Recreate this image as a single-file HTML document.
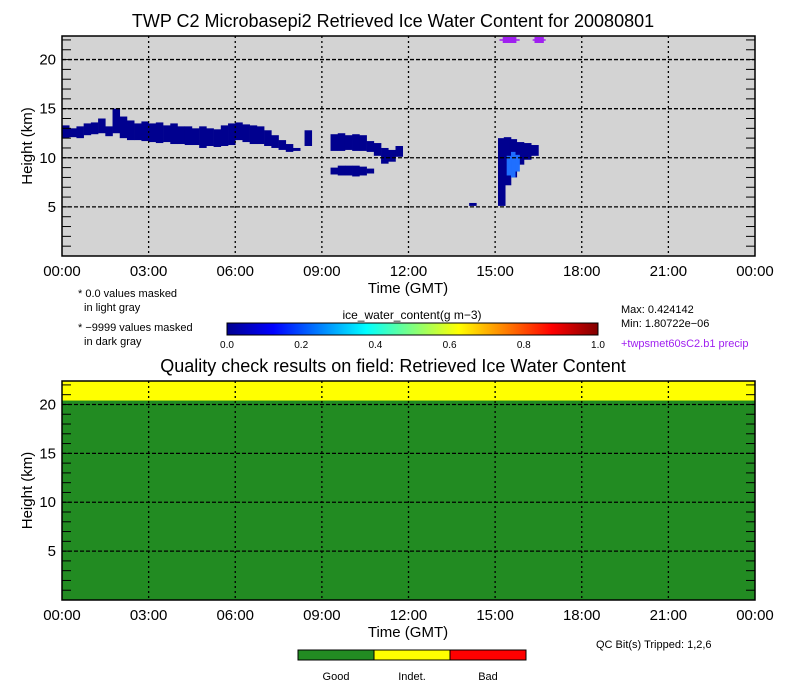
<!DOCTYPE html>
<html><head><meta charset="utf-8"><style>
body{margin:0;background:#fff;font-family:"Liberation Sans",sans-serif;}
svg{display:block}
</style></head><body>
<svg width="786" height="688" viewBox="0 0 786 688" font-family="Liberation Sans, sans-serif">
<g id="top"></g><g id="bot"></g>
</svg>
<script>
// ---- data ----
const timeTicks=["00:00","03:00","06:00","09:00","12:00","15:00","18:00","21:00","00:00"];
const tickHours=[0,3,6,9,12,15,18,21,24];
const yTicks=[5,10,15,20];
// upper cloud columns (hour, base km, top km)
const cloudHours=[0,0.25,0.5,0.75,1.0,1.25,1.5,1.75,2.0,2.25,2.5,2.75,3.0,3.25,3.5,3.75,4.0,4.25,4.5,4.75,5.0,5.25,5.5,5.75,6.0,6.25,6.5,6.75,7.0,7.25,7.5,7.75,8.0,8.4,9.3,9.55,9.8,10.05,10.3,10.55,10.8,11.05,11.3,11.55,14.1,15.1,15.3,15.5,15.75,16.0,16.25];
const cloudBase=[12.0,12.1,12.0,12.3,12.4,12.5,12.2,12.5,12.0,11.8,11.8,11.7,11.6,11.5,11.6,11.4,11.4,11.3,11.3,11.0,11.2,11.1,11.2,11.3,11.8,11.6,11.4,11.4,11.2,11.0,10.8,10.6,10.7,11.2,10.7,10.7,10.8,10.7,10.7,10.6,10.2,9.4,9.6,10.1,5.1,5.1,7.2,8.0,9.3,9.8,10.2];
const cloudTop=[13.3,13.0,13.2,13.5,13.6,14.0,13.2,15.0,14.2,13.8,13.5,13.7,13.5,13.6,13.3,13.5,13.2,13.2,13.0,13.2,13.0,12.9,13.3,13.5,13.6,13.4,13.3,13.2,12.8,12.3,11.8,11.4,11.0,12.8,12.4,12.5,12.3,12.4,12.3,11.7,11.5,11.0,10.8,11.2,5.4,12.0,12.1,11.9,11.6,11.5,11.3];
// lower cloud layer
const lowHours=[9.3,9.55,9.8,10.05,10.3,10.55];
const lowBase=[8.3,8.2,8.2,8.1,8.2,8.4];
const lowTop=[9.0,9.2,9.2,9.2,9.1,8.9];
// bright core
const coreHours=[15.4,15.55,15.7];
const coreBase=[8.2,8.0,8.6];
const coreTop=[10.2,10.6,10.3];
// precip flags (hours)
const precipHours=[15.35,15.5,15.65,16.45,16.6];
const qcIndetBottom=20.4;
const cbTicks=["0.0","0.2","0.4","0.6","0.8","1.0"];
// ---- layout ----
const NS="http://www.w3.org/2000/svg";
function mk(p,t,a){const e=document.createElementNS(NS,t);for(const k in a)e.setAttribute(k,a[k]);p.appendChild(e);return e;}
function txt(p,x,y,s,size,anchor,fill){const e=mk(p,'text',{x:x,y:y,'font-size':size,'text-anchor':anchor||'middle',fill:fill||'#000'});e.textContent=s;return e;}
function panel(g,top,bottom,title,bg,nm){
  const L=62,R=755,H=22.4;
  const X=h=>L+h*(R-L)/24;
  const Y=k=>bottom-k*(bottom-top)/H;
  const t=txt(g,393,top-9,title,18);
  
  const r=mk(g,'rect',{x:L,y:top,width:R-L,height:bottom-top,fill:bg});
  
  return {L,R,X,Y,top,bottom};
}
function frame(g,P,nm){
  const {L,R,X,Y,top,bottom}=P;
  tickHours.forEach((h,i)=>{
    if(i>0&&i<8){const l=mk(g,'line',{x1:X(h),x2:X(h),y1:top,y2:bottom,stroke:'#000','stroke-width':1.3,'stroke-dasharray':'2,3'});
      }
    const t=txt(g,X(h),bottom+20,timeTicks[i],15);
    
  });
  yTicks.forEach(k=>{
    const l=mk(g,'line',{x1:L,x2:R,y1:Y(k),y2:Y(k),stroke:'#000','stroke-width':1.3,'stroke-dasharray':'4,2'});
    
    const t=txt(g,L-6,Y(k)+5,String(k),15,'end');
    
  });
  for(let k=1;k<=22;k++){mk(g,'line',{x1:L,x2:L+9,y1:Y(k),y2:Y(k),stroke:'#000','stroke-width':1});mk(g,'line',{x1:R-9,x2:R,y1:Y(k),y2:Y(k),stroke:'#000','stroke-width':1});}
  const b=mk(g,'rect',{x:L,y:top,width:R-L,height:bottom-top,fill:'none',stroke:'#000','stroke-width':1.5});
  
  const xt=txt(g,408,bottom+37,'Time (GMT)',15);
  
  const yt=txt(g,0,0,'Height (km)',15);yt.setAttribute('transform',`translate(32,${(top+bottom)/2}) rotate(-90)`);
  
}
// top panel
const gt=document.getElementById('top');
const P=panel(gt,36,256,'TWP C2 Microbasepi2 Retrieved Ice Water Content for 20080801','#d3d3d3','iwc');
const w=P.X(0.26)-P.X(0);
cloudHours.forEach((h,i)=>{const r=mk(gt,'rect',{x:P.X(h),y:P.Y(cloudTop[i]),width:w,height:P.Y(cloudBase[i])-P.Y(cloudTop[i]),fill:'#00008f'});
  });
lowHours.forEach((h,i)=>{const r=mk(gt,'rect',{x:P.X(h),y:P.Y(lowTop[i]),width:w,height:P.Y(lowBase[i])-P.Y(lowTop[i]),fill:'#00008f'});
  });
coreHours.forEach((h,i)=>{const r=mk(gt,'rect',{x:P.X(h),y:P.Y(coreTop[i]),width:w*0.6,height:P.Y(coreBase[i])-P.Y(coreTop[i]),fill:'#1f6fff'});
  });
precipHours.forEach(h=>{const r=mk(gt,'rect',{x:P.X(h)-2.5,y:37,width:5,height:6,fill:'#a020f0'});
  });
mk(gt,'line',{x1:P.X(15.15),x2:P.X(15.85),y1:40,y2:40,stroke:'#a020f0','stroke-width':1.5});
mk(gt,'line',{x1:P.X(16.3),x2:P.X(16.75),y1:40,y2:40,stroke:'#a020f0','stroke-width':1.5});
frame(gt,P,'iwc');
// notes
[['* 0.0 values masked',78,297],['  in light gray',84,311],['* \u22129999 values masked',78,331],['  in dark gray',84,345]].forEach(a=>{const t=txt(gt,a[1],a[2],a[0],11,'start');});
// colorbar
const defs=mk(gt,'defs',{});const lg=mk(defs,'linearGradient',{id:'jet'});
[['0','#00008f'],['0.125','#0000ff'],['0.375','#00ffff'],['0.625','#ffff00'],['0.875','#ff0000'],['1','#800000']].forEach(s=>mk(lg,'stop',{offset:s[0],'stop-color':s[1]}));
const ct=txt(gt,412,319,'ice_water_content(g m\u22123)',12);
const cb=mk(gt,'rect',{x:227,y:323,width:371,height:12,fill:'url(#jet)',stroke:'#000','stroke-width':1});

cbTicks.forEach((s,i)=>{const t=txt(gt,227+i*371/5,348,s,10);});
[['Max: 0.424142',621,313,'#000'],['Min: 1.80722e\u221206',621,327,'#000'],['+twpsmet60sC2.b1 precip',621,347,'#a020f0']].forEach(a=>{const t=txt(gt,a[1],a[2],a[0],11,'start',a[3]);});
// bottom panel
const gb=document.getElementById('bot');
const Q=panel(gb,381,600,'Quality check results on field: Retrieved Ice Water Content','#228b22','qc');
const yr=mk(gb,'rect',{x:Q.L,y:Q.top,width:Q.R-Q.L,height:Q.Y(qcIndetBottom)-Q.top,fill:'#ffff00'});

frame(gb,Q,'qc');
const qt=txt(gb,596,648,'QC Bit(s) Tripped: 1,2,6',11,'start');
[['#228b22','Good'],['#ffff00','Indet.'],['#ff0000','Bad']].forEach((c,i)=>{
  const r=mk(gb,'rect',{x:298+i*76,y:650,width:76,height:10,fill:c[0],stroke:'#000','stroke-width':1});
  
  const t=txt(gb,336+i*76,680,c[1],11);
});
</script>
</body></html>
